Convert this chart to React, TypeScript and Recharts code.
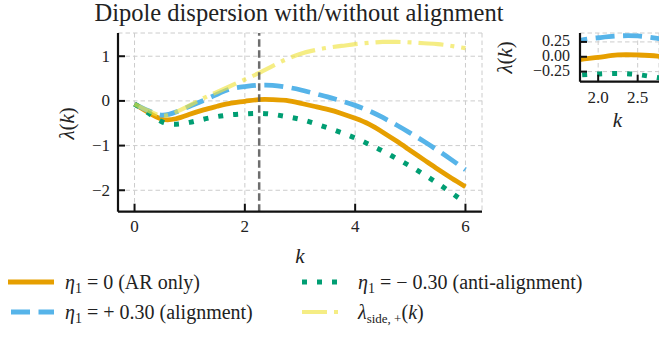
import React from 'react';
import { LineChart, Line, XAxis, YAxis, CartesianGrid, ReferenceLine, Legend, Label } from 'recharts';

// ---------- data ----------
const kValues = [0, 0.25, 0.5, 0.75, 1, 1.25, 1.5, 1.75, 2, 2.25, 2.5, 2.75, 3, 3.25, 3.5, 3.75, 4, 4.25, 4.5, 4.75, 5, 5.25, 5.5, 5.75, 6];
const lambdaAR = [-0.07, -0.26, -0.41, -0.40, -0.30, -0.20, -0.12, -0.05, -0.01, 0.03, 0.03, 0.01, -0.05, -0.12, -0.19, -0.28, -0.39, -0.52, -0.70, -0.90, -1.11, -1.32, -1.53, -1.73, -1.92];
const lambdaAlign = [-0.07, -0.22, -0.32, -0.25, -0.12, 0.01, 0.15, 0.27, 0.32, 0.35, 0.35, 0.31, 0.25, 0.17, 0.09, 0.0, -0.10, -0.22, -0.37, -0.54, -0.72, -0.91, -1.11, -1.32, -1.54];
const lambdaAnti = [-0.07, -0.27, -0.47, -0.52, -0.48, -0.41, -0.35, -0.31, -0.29, -0.28, -0.30, -0.35, -0.41, -0.50, -0.60, -0.71, -0.83, -0.97, -1.12, -1.29, -1.46, -1.65, -1.85, -2.06, -2.28];
const lambdaSide = [-0.07, -0.22, -0.33, -0.25, -0.10, 0.06, 0.20, 0.34, 0.48, 0.62, 0.78, 0.93, 1.05, 1.13, 1.19, 1.23, 1.27, 1.30, 1.32, 1.32, 1.31, 1.29, 1.27, 1.23, 1.18];
const kStar = 2.26;

const mainXTicks = [0, 2, 4, 6];
const mainYTicks = [-2, -1, 0, 1];
const mainXDomain = [-0.3, 6.3];
const mainYDomain = [-2.48, 1.52];
const insetXTicks = [2.0, 2.5];
const insetYTicks = [-0.25, 0, 0.25];
const insetXDomain = [1.77, 2.77];
const insetYDomain = [-0.42, 0.4];

const titleText = 'Dipole dispersion with/without alignment';

const data = kValues.map((k, i) => ({
  k,
  ar: lambdaAR[i],
  align: lambdaAlign[i],
  anti: lambdaAnti[i],
  side: lambdaSide[i],
}));

// ---------- styles ----------
const FONT = 'Liberation Serif';
const INK = '#222222';
const SPINE = '#111111';
const GRID = '#cccccc';

const styles: Record<string, any> = {
  ar: { stroke: '#E69F00', strokeWidth: 4.8, dash: undefined, opacity: 1 },
  align: { stroke: '#56B4E9', strokeWidth: 4.8, dash: '19 8.5', opacity: 1 },
  anti: { stroke: '#009E73', strokeWidth: 5, dash: '5 10', opacity: 1 },
  side: { stroke: '#F0E442', strokeWidth: 4.2, dash: '25 7 4 7', opacity: 0.65 },
};

const minus = (v: number, s: string) => (v < 0 ? '\u2212' + s : s);
const fmtInt = (v: number) => minus(v, String(Math.abs(v)));
const fmt1 = (v: number) => minus(v, Math.abs(v).toFixed(1));
const fmt2 = (v: number) => minus(v, Math.abs(v).toFixed(2));

function makeXTick(fmt: (v: number) => string, offset: number, len: number) {
  return (props: any) => {
    const { x, y, payload } = props;
    return (
      <g>
        <line x1={x} x2={x} y1={y} y2={y - len} stroke={SPINE} strokeWidth={2} />
        <text x={x} y={y + offset} textAnchor="middle" fontSize={17} fill={INK} fontFamily={FONT}>
          {fmt(payload.value)}
        </text>
      </g>
    );
  };
}
function makeYTick(fmt: (v: number) => string, gap: number, len: number, dy: number, size: number) {
  return (props: any) => {
    const { x, y, payload } = props;
    return (
      <g>
        <line x1={x} x2={x + len} y1={y} y2={y} stroke={SPINE} strokeWidth={2} />
        <text x={x - gap} y={y + dy} textAnchor="end" fontSize={size} fill={INK} fontFamily={FONT}>
          {fmt(payload.value)}
        </text>
      </g>
    );
  };
}

const LambdaK = ({ x, y, size }: any) => (
  <text x={x} y={y} transform={`rotate(-90 ${x} ${y})`} textAnchor="middle" dominantBaseline="central" fontSize={size} fill={INK} fontFamily={FONT}>
    <tspan fontStyle="italic">λ</tspan>
    <tspan>(</tspan>
    <tspan fontStyle="italic">k</tspan>
    <tspan>)</tspan>
  </text>
);

const LegendContent = () => {
  const r1 = 20;
  const r2 = 50;
  const ts = 20;
  const seg = (key: string, x1: number, x2: number, y: number) => (
    <line x1={x1} x2={x2} y1={y} y2={y} stroke={styles[key].stroke} strokeOpacity={styles[key].opacity}
      strokeWidth={styles[key].strokeWidth} strokeDasharray={styles[key].dash} />
  );
  const eta = (x: number, y: number, rest: string) => (
    <text x={x} y={y + 6.5} fontSize={ts} fill={INK} fontFamily={FONT}>
      <tspan fontStyle="italic">η</tspan>
      <tspan fontSize={14} dy={4}>1</tspan>
      <tspan dy={-4}>{rest}</tspan>
    </text>
  );
  return (
    <svg width={659} height={70} style={{ display: 'block', overflow: 'visible' }}>
      {seg('ar', 8, 54, r1)}
      {eta(65, r1, ' = 0 (AR only)')}
      {seg('align', 11, 54, r2)}
      {eta(65, r2, ' = + 0.30 (alignment)')}
      {seg('anti', 302, 340, r1)}
      {eta(358, r1, ' = \u2212 0.30 (anti-alignment)')}
      {seg('side', 302, 340, r2)}
      <text x={358} y={r2 + 6.5} fontSize={ts} fill={INK} fontFamily={FONT}>
        <tspan fontStyle="italic">λ</tspan>
        <tspan fontSize={13} dy={4}>side, +</tspan>
        <tspan dy={-4}>(</tspan>
        <tspan fontStyle="italic">k</tspan>
        <tspan>)</tspan>
      </text>
    </svg>
  );
};

const renderLines = (keys: string[]) =>
  keys.map((key) => (
    <Line
      key={key}
      type="natural"
      dataKey={key}
      stroke={styles[key].stroke}
      strokeOpacity={styles[key].opacity}
      strokeWidth={styles[key].strokeWidth}
      strokeDasharray={styles[key].dash}
      dot={false}
      activeDot={false}
      isAnimationActive={false}
    />
  ));

export default function App() {
  return (
    <div style={{ position: 'absolute', left: 0, top: 0, width: 659, height: 338, background: '#fff' }}>
      <div style={{ position: 'absolute', left: 0, top: 0 }}>
        <LineChart width={659} height={338} data={data} margin={{ top: 33, right: 177, bottom: 66.3, left: 68 }}>
          <CartesianGrid stroke={GRID} strokeDasharray="4.5 3" strokeWidth={1} />
          <XAxis
            type="number"
            dataKey="k"
            domain={mainXDomain}
            ticks={mainXTicks}
            interval={0}
            allowDataOverflow
            height={60}
            tickSize={0}
            tickMargin={0}
            tickLine={false}
            axisLine={{ stroke: SPINE, strokeWidth: 2.2 }}
            tick={makeXTick(fmtInt, 20, 8)}
          >
            <Label
              content={(p: any) => {
                const vb = p.viewBox;
                return (
                  <text x={vb.x + vb.width / 2} y={vb.y + 51} textAnchor="middle" fontSize={21} fontStyle="italic" fill={INK} fontFamily={FONT}>
                    k
                  </text>
                );
              }}
            />
          </XAxis>
          <YAxis
            type="number"
            domain={mainYDomain}
            ticks={mainYTicks}
            interval={0}
            allowDataOverflow
            width={50}
            tickSize={0}
            tickMargin={0}
            tickLine={false}
            axisLine={{ stroke: SPINE, strokeWidth: 2.2 }}
            tick={makeYTick(fmtInt, 8, 7, 5.5, 17)}
          >
            <Label
              content={(p: any) => {
                const vb = p.viewBox;
                return <LambdaK x={vb.x + vb.width - 51} y={vb.y + vb.height / 2 + 1} size={21} />;
              }}
            />
          </YAxis>
          {renderLines(['ar', 'align', 'anti', 'side'])}
          <ReferenceLine x={kStar} stroke="#555555" strokeOpacity={0.85} strokeWidth={2.5} strokeDasharray="7.5 3.5" />
          <Legend
            layout="horizontal"
            verticalAlign="middle"
            align="center"
            content={<LegendContent />}
            wrapperStyle={{ left: 0, top: 262, width: 659, height: 70 }}
          />
        </LineChart>
      </div>
      <div style={{ position: 'absolute', left: 480, top: 0 }}>
        <LineChart width={179} height={140} data={data} margin={{ top: 33, right: 0, bottom: 18.3, left: 60 }}>
          <CartesianGrid stroke={GRID} strokeDasharray="4.5 3" strokeWidth={1} />
          <XAxis
            type="number"
            dataKey="k"
            domain={insetXDomain}
            ticks={insetXTicks}
            interval={0}
            allowDataOverflow
            height={40}
            tickSize={0}
            tickMargin={0}
            tickLine={false}
            axisLine={{ stroke: SPINE, strokeWidth: 2.2 }}
            tick={makeXTick(fmt1, 21.5, 7)}
          >
            <Label
              content={(p: any) => {
                const vb = p.viewBox;
                return (
                  <text x={vb.x + vb.width / 2 - 2} y={vb.y + 45} textAnchor="middle" fontSize={21} fontStyle="italic" fill={INK} fontFamily={FONT}>
                    k
                  </text>
                );
              }}
            />
          </XAxis>
          <YAxis
            type="number"
            domain={insetYDomain}
            ticks={insetYTicks}
            interval={0}
            allowDataOverflow
            width={40}
            tickSize={0}
            tickMargin={0}
            tickLine={false}
            axisLine={{ stroke: SPINE, strokeWidth: 2.2 }}
            tick={makeYTick(fmt2, 10, 7, 4.5, 16)}
          >
            <Label
              content={(p: any) => {
                const vb = p.viewBox;
                return <LambdaK x={vb.x + vb.width - 75} y={vb.y + vb.height / 2} size={21} />;
              }}
            />
          </YAxis>
          {renderLines(['ar', 'align', 'anti'])}
        </LineChart>
      </div>
      <svg width={659} height={30} style={{ position: 'absolute', left: 0, top: 0, overflow: 'visible' }}>
        <text x={299} y={21} textAnchor="middle" fontSize={24.5} fill={INK} fontFamily={FONT}>
          {titleText}
        </text>
      </svg>
    </div>
  );
}
